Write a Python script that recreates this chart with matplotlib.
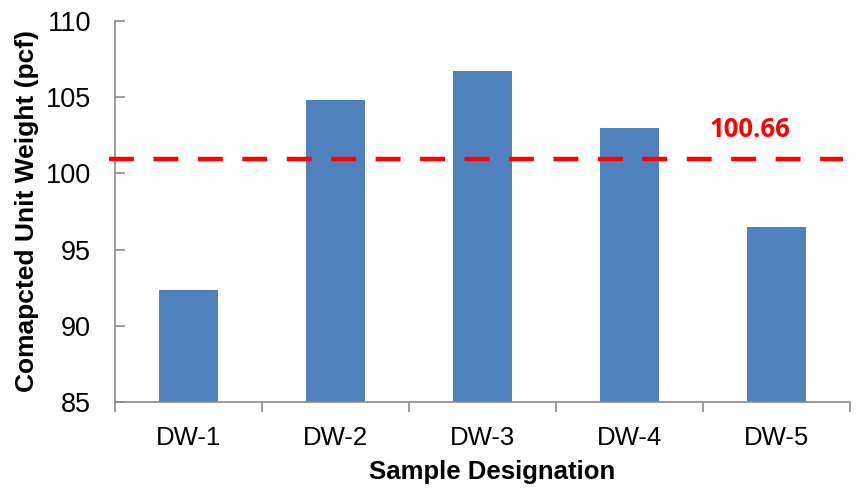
import matplotlib
matplotlib.use('Agg')
import matplotlib.pyplot as plt
import numpy as np

samples = ['DW-1', 'DW-2', 'DW-3', 'DW-4', 'DW-5']
unit_weight = [92.35, 104.82, 106.72, 102.98, 96.48]  # pcf
avg_label = '100.66'
avg_line = 100.96  # where the dashed line sits in the picture
yticks = [85, 90, 95, 100, 105, 110]

plt.rcParams['font.family'] = ['Liberation Sans', 'DejaVu Sans']

fig = plt.figure(figsize=(8.59, 4.88), dpi=100)
ax = fig.add_axes([0.1335, 0.1762, 0.8560, 0.7808])

x = np.arange(len(samples))
ax.bar(x, unit_weight, width=0.4, color='#4F81BD', zorder=2)

# average line, sticks out a little left of the axis
ax.plot([-0.008, 0.99], [avg_line, avg_line], color='#FF0000', lw=3.2,
        dashes=(5.6, 4.4), transform=ax.get_yaxis_transform(),
        clip_on=False, zorder=3)
ax.text(3.82, avg_line + 1.95, avg_label, color='#FF0000', fontsize=18.5,
        fontweight='bold', ha='center', va='center',
        family=['Open Sans', 'DejaVu Sans'])

ax.set_xlim(-0.5, len(samples) - 0.5)
ax.set_ylim(85, 110)
ax.set_yticks(yticks)
ax.set_xticks(x)
ax.set_xticklabels(samples)
ax.set_xticks(np.arange(-0.5, len(samples)), minor=True)

for side in ['top', 'right']:
    ax.spines[side].set_visible(False)
for side in ['left', 'bottom']:
    ax.spines[side].set_color('#8C8C8C')
    ax.spines[side].set_linewidth(1.2)

ax.tick_params(axis='y', direction='in', length=7, width=1.2, color='#8C8C8C',
               labelsize=19.5, pad=17)
ax.tick_params(axis='x', which='major', length=0, labelsize=18.5, pad=17)
ax.tick_params(axis='x', which='minor', direction='out', length=7, width=1.2,
               color='#8C8C8C')

ax.set_xlabel('Sample Designation', fontsize=18.5, fontweight='bold')
ax.xaxis.set_label_coords(0.513, -0.153)
ax.xaxis.label.set_va('top')
ax.set_ylabel('Comapcted Unit Weight (pcf)', fontsize=19, fontweight='bold',
              labelpad=5)

plt.savefig('out.png', dpi=100)
plt.close()
